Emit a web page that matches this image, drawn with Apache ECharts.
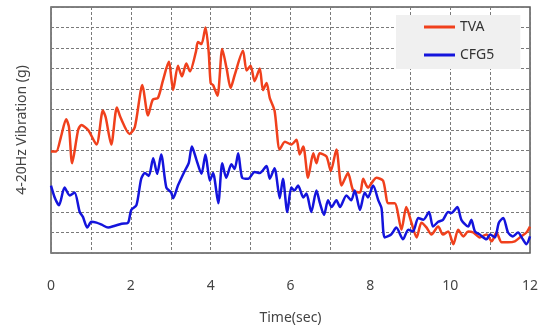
<!DOCTYPE html>
<html><head><meta charset="utf-8">
<script src="https://cdn.jsdelivr.net/npm/echarts@6/dist/echarts.min.js"></script>
<style>html,body{margin:0;padding:0;background:#fff}#c{width:544px;height:330px}</style>
</head><body><div id="c"></div>
<script>
const xTicks = [0, 2, 4, 6, 8, 10, 12];
const tvaTime = [0.00,0.13,0.25,0.38,0.45,0.53,0.68,0.76,0.93,1.14,1.30,1.37,1.51,1.65,1.74,1.97,2.10,2.29,2.43,2.55,2.68,2.80,2.95,3.06,3.18,3.28,3.39,3.48,3.63,3.68,3.77,3.87,3.95,4.00,4.06,4.17,4.29,4.40,4.50,4.60,4.81,4.90,5.00,5.10,5.23,5.31,5.40,5.48,5.60,5.73,5.86,6.02,6.15,6.23,6.32,6.44,6.57,6.65,6.73,6.90,7.01,7.15,7.28,7.44,7.57,7.74,7.82,7.94,8.07,8.15,8.32,8.45,8.61,8.78,8.90,9.03,9.16,9.28,9.41,9.53,9.70,9.82,9.95,10.08,10.20,10.33,10.45,10.58,10.74,10.91,11.04,11.16,11.29,11.45,11.62,11.78,11.91,12.00];
const tvaValue = [4.95,4.95,5.67,6.52,6.14,4.38,6.00,6.24,6.00,5.29,6.95,6.62,5.29,7.10,6.62,5.81,6.14,8.19,6.71,7.48,7.57,8.38,9.33,7.95,9.14,8.62,9.24,8.86,9.81,10.29,10.19,11.00,9.81,8.29,8.19,7.67,9.95,9.00,8.05,8.67,9.86,8.90,9.14,8.38,9.00,7.95,8.29,7.57,6.95,5.05,5.43,5.29,5.52,4.81,5.19,3.67,4.86,4.38,4.86,4.71,4.00,5.05,3.29,3.90,3.05,2.95,3.62,3.19,3.52,3.67,3.52,2.43,2.43,1.14,2.24,1.48,0.76,1.48,1.24,0.90,1.29,0.90,1.05,0.43,1.14,0.81,1.05,1.00,0.76,0.90,0.57,1.00,0.52,0.52,0.57,0.81,1.00,1.29];
const cfgTime = [0.00,0.10,0.20,0.34,0.47,0.59,0.72,0.80,0.91,1.01,1.14,1.27,1.43,1.60,1.77,1.93,2.01,2.14,2.26,2.35,2.45,2.56,2.66,2.76,2.89,3.01,3.06,3.18,3.35,3.45,3.53,3.64,3.77,3.87,3.98,4.06,4.19,4.29,4.39,4.52,4.60,4.69,4.79,4.94,5.10,5.23,5.40,5.48,5.60,5.73,5.81,5.92,6.02,6.10,6.19,6.32,6.40,6.52,6.65,6.73,6.84,6.94,7.03,7.15,7.24,7.40,7.52,7.61,7.74,7.86,7.94,8.07,8.20,8.28,8.36,8.52,8.65,8.82,8.95,9.07,9.20,9.33,9.47,9.57,9.70,9.82,9.95,10.03,10.18,10.28,10.45,10.53,10.62,10.74,10.91,11.00,11.12,11.22,11.33,11.45,11.57,11.70,11.82,11.91,12.00];
const cfgValue = [3.29,2.67,2.33,3.19,2.81,2.95,2.00,1.76,1.24,1.52,1.48,1.38,1.24,1.33,1.43,1.48,2.10,2.33,3.62,3.90,3.76,4.62,3.86,4.81,3.19,2.95,2.67,3.29,4.00,4.38,5.19,4.57,3.86,4.81,3.52,3.90,2.43,4.38,3.67,4.33,4.10,4.86,3.67,3.62,3.95,3.90,4.24,3.62,4.14,2.67,3.62,2.00,3.19,3.05,3.29,2.71,2.90,2.00,3.05,2.48,1.86,2.57,2.24,2.57,2.24,2.81,2.57,3.05,2.10,2.95,2.71,3.29,2.57,2.19,0.76,0.90,1.24,0.67,1.14,1.05,1.71,1.62,2.00,1.29,1.52,1.62,2.00,1.95,2.24,1.62,1.29,1.62,1.05,0.90,0.67,0.90,0.76,1.48,1.71,1.00,0.81,1.00,0.67,0.43,0.81];

const tvaData = tvaTime.map((t, i) => [t, tvaValue[i]]);
const cfgData = cfgTime.map((t, i) => [t, cfgValue[i]]);

const chart = echarts.init(document.getElementById('c'), null, {renderer: 'canvas'});
const font = '"Noto Sans", "Open Sans", sans-serif';
chart.setOption({
  animation: false,
  grid: {left: 51, right: 14, top: 7, bottom: 71, show: true, borderColor: '#5a5a5a', borderWidth: 1.5, backgroundColor: '#fff'},
  legend: {
    left: 396, top: 15, orient: 'vertical',
    backgroundColor: '#f0f0f0',
    padding: [4, 26, 6, 28],
    itemGap: 12, itemWidth: 31, itemHeight: 3, icon: 'rect',
    textStyle: {fontSize: 14, lineHeight: 16, color: '#333', fontFamily: font},
    data: ['TVA', 'CFG5']
  },
  xAxis: {
    type: 'value', min: 0, max: 12, interval: 1,
    name: 'Time(sec)', nameLocation: 'middle', nameGap: 58,
    nameTextStyle: {fontSize: 14, color: '#444', fontFamily: font},
    axisLine: {show: false}, axisTick: {show: false},
    axisLabel: {margin: 26, fontSize: 14, color: '#444', fontFamily: font,
      formatter: v => xTicks.indexOf(v) >= 0 ? String(v) : ''},
    splitLine: {show: true, lineStyle: {color: '#7a7a7a', type: [3, 2], width: 1}}
  },
  yAxis: {
    type: 'value', min: 0, max: 12, interval: 1,
    name: '4-20Hz Vibration (g)', nameLocation: 'middle', nameGap: 22, nameRotate: 90,
    nameTextStyle: {fontSize: 14, color: '#444', fontFamily: font},
    axisLine: {show: false}, axisTick: {show: false}, axisLabel: {show: false},
    splitLine: {show: true, lineStyle: {color: '#7a7a7a', type: [3, 2], width: 1}}
  },
  series: [
    {name: 'TVA', type: 'line', data: tvaData, showSymbol: false, smooth: 0.25,
     lineStyle: {color: '#f0401c', width: 2.5}, itemStyle: {color: '#f0401c'}},
    {name: 'CFG5', type: 'line', data: cfgData, showSymbol: false, smooth: 0.25,
     lineStyle: {color: '#1414dc', width: 2.5}, itemStyle: {color: '#1414dc'}}
  ]
});
</script>
</body></html>
